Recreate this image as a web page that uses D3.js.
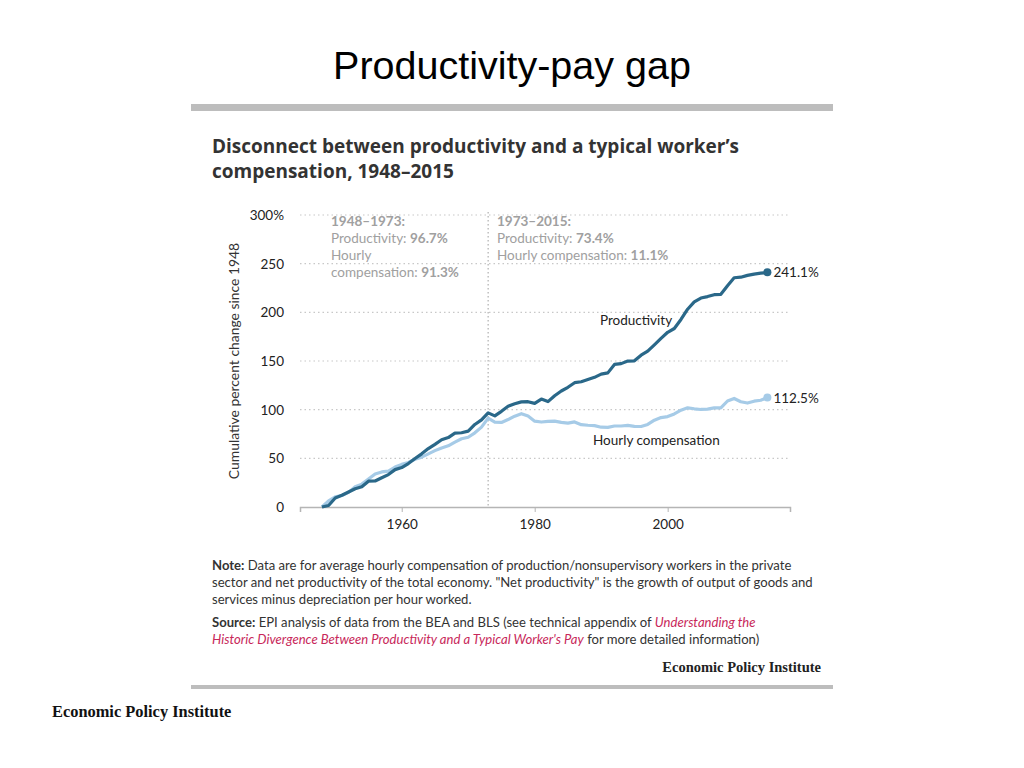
<!DOCTYPE html>
<html><head><meta charset="utf-8">
<script src="https://cdn.jsdelivr.net/npm/d3@7"></script>
<style>body{margin:0;background:#fff}svg{display:block}</style>
</head><body>
<script>
const years = d3.range(1948, 2016);
const productivity = [0,1.5,9.3,12.1,15.4,18.8,20.8,26.5,26.7,30.1,33.3,38.4,40.5,44.6,49.8,54.6,60.0,64.4,69.1,71.3,75.9,76.3,77.9,84.8,89.5,96.7,93.6,98.3,103.6,106.1,108.0,108.2,106.5,110.9,108.3,114.3,119.2,123.0,127.7,128.7,131.0,133.2,136.5,137.8,146.5,147.3,149.9,150.2,156.0,160.2,166.6,173.2,179.5,183.4,192.7,203.2,210.7,214.7,216.2,218.1,218.5,227.3,235.5,236.1,238.0,239.3,240.2,241.1];
const compensation = [0,6.3,10.5,11.8,15.0,20.8,23.5,28.7,33.9,36.0,36.9,41.0,43.8,45.8,49.0,51.2,54.6,57.9,60.7,62.9,66.7,70.1,71.7,76.2,82.1,91.3,87.3,86.9,89.8,93.3,95.9,93.4,88.2,87.3,87.9,88.3,87.0,86.2,87.4,84.6,84.0,83.6,82.0,81.8,83.2,83.2,83.8,82.8,82.7,84.8,89.2,91.9,92.9,95.6,99.5,101.9,100.9,100.2,100.6,101.8,101.8,108.9,111.5,108.1,106.8,108.7,109.7,112.5];
const yTicks = [0,50,100,150,200,250,300];
const xTicks = [1960,1980,2000];
const periods = [
  {x:1948, head:"1948–1973:", lines:[["Productivity: ","96.7%"],["Hourly",""],["compensation: ","91.3%"]]},
  {x:1973, head:"1973–2015:", lines:[["Productivity: ","73.4%"],["Hourly compensation: ","11.1%"]]}
];
const darkC = "#2a6889", lightC = "#a6cbe7";
const F = "Lato, 'Open Sans', sans-serif";

const svg = d3.select("body").append("svg").attr("width",1024).attr("height",768);

svg.append("text").attr("x",512).attr("y",79).attr("text-anchor","middle")
  .attr("font-family","'Liberation Sans', Arial, sans-serif").attr("font-size",39.5).attr("fill","#000")
  .text("Productivity-pay gap");

svg.append("rect").attr("x",191).attr("y",104).attr("width",642).attr("height",7).attr("fill","#bdbdbd");
svg.append("rect").attr("x",191).attr("y",685).attr("width",642).attr("height",4).attr("fill","#bdbdbd");

const t = svg.append("text").attr("font-family","'Open Sans', Lato, sans-serif").attr("font-weight","bold").attr("font-size",19).attr("fill","#333");
t.append("tspan").attr("x",212).attr("y",153).text("Disconnect between productivity and a typical worker’s");
t.append("tspan").attr("x",212).attr("y",178).text("compensation, 1948–2015");

const x = d3.scaleLinear().domain([1944.7, 2018.4]).range([300, 790]);
const y = d3.scaleLinear().domain([0, 300]).range([507, 215]);

// grid
svg.append("g").selectAll("line").data(yTicks.filter(d=>d>0)).join("line")
  .attr("x1",300).attr("x2",788).attr("y1",d=>y(d)).attr("y2",d=>y(d))
  .attr("stroke","#c8c8c8").attr("stroke-width",1.2).attr("stroke-dasharray","1.5,3");

svg.append("g").selectAll("text").data(yTicks).join("text")
  .attr("x",284).attr("y",d=>y(d)+5).attr("text-anchor","end")
  .attr("font-family",F).attr("font-size",13.5).attr("fill","#222")
  .text(d=>d===300?"300%":d);

svg.append("text").attr("transform","translate(239,361) rotate(-90)").attr("text-anchor","middle")
  .attr("font-family",F).attr("font-size",13.9).attr("fill","#333")
  .text("Cumulative percent change since 1948");

// x axis
const xa = svg.append("g").attr("transform","translate(0,507)")
  .call(d3.axisBottom(x).tickValues(xTicks).tickSize(5).tickFormat(d3.format("d")));
xa.select(".domain").attr("stroke","#b5b5b5").attr("stroke-width",1.5);
xa.selectAll(".tick line").attr("stroke","#b5b5b5");
xa.selectAll(".tick text").attr("font-family",F).attr("font-size",13.5).attr("fill","#222").attr("dy","1em");

// 1973 divider
svg.append("line").attr("x1",x(1973)).attr("x2",x(1973)).attr("y1",212).attr("y2",506)
  .attr("stroke","#b5b5b5").attr("stroke-width",1.3).attr("stroke-dasharray","1.5,2.5");

// period annotations
periods.forEach((p,i)=>{
  const px = i===0 ? 331 : 497;
  svg.append("text").attr("x",px).attr("y",226).attr("font-family",F).attr("font-size",13.5)
    .attr("font-weight","bold").attr("fill","#a0a0a0").text(p.head);
  p.lines.forEach((l,j)=>{
    const tt = svg.append("text").attr("x",px).attr("y",243+j*17).attr("font-family",F).attr("font-size",13.5).attr("fill","#a0a0a0");
    tt.append("tspan").text(l[0]);
    if(l[1]) tt.append("tspan").attr("font-weight","bold").text(l[1]);
  });
});

const line = d3.line().x((d,i)=>x(years[i])).y(d=>y(d)).curve(d3.curveLinear);
svg.append("path").datum(compensation).attr("d",line).attr("fill","none").attr("stroke",lightC)
  .attr("stroke-width",3.2).attr("stroke-linejoin","round");
svg.append("path").datum(productivity).attr("d",line).attr("fill","none").attr("stroke",darkC)
  .attr("stroke-width",3.2).attr("stroke-linejoin","round");

const last = years.length-1;
svg.append("circle").attr("cx",x(years[last])).attr("cy",y(productivity[last])).attr("r",4).attr("fill",darkC);
svg.append("circle").attr("cx",x(years[last])).attr("cy",y(compensation[last])).attr("r",4).attr("fill",lightC);
svg.append("text").attr("x",x(years[last])+6).attr("y",y(productivity[last])+5).attr("font-family",F).attr("font-size",13.5).attr("fill","#222").text(productivity[last]+"%");
svg.append("text").attr("x",x(years[last])+6).attr("y",y(compensation[last])+5).attr("font-family",F).attr("font-size",13.5).attr("fill","#222").text(compensation[last]+"%");

svg.append("text").attr("x",600).attr("y",325).attr("font-family",F).attr("font-size",13.5).attr("fill","#222").text("Productivity");
svg.append("text").attr("x",593).attr("y",445).attr("font-family",F).attr("font-size",13.5).attr("fill","#222").text("Hourly compensation");

// notes
const nF = 13.1;
function noteLine(yy, parts){
  const tt = svg.append("text").attr("x",212).attr("y",yy).attr("font-family",F).attr("font-size",nF).attr("fill","#333");
  parts.forEach(p=>{
    const s = tt.append("tspan").text(p.t);
    if(p.b) s.attr("font-weight","bold");
    if(p.i) s.attr("font-style","italic").attr("fill","#c8285a");
  });
}
noteLine(570,[{t:"Note:",b:1},{t:" Data are for average hourly compensation of production/nonsupervisory workers in the private"}]);
noteLine(587,[{t:"sector and net productivity of the total economy. \"Net productivity\" is the growth of output of goods and"}]);
noteLine(604,[{t:"services minus depreciation per hour worked."}]);
noteLine(627,[{t:"Source:",b:1},{t:" EPI analysis of data from the BEA and BLS (see technical appendix of "},{t:"Understanding the",i:1}]);
noteLine(644,[{t:"Historic Divergence Between Productivity and a Typical Worker's Pay",i:1},{t:" for more detailed information)"}]);

svg.append("text").attr("x",821).attr("y",672).attr("text-anchor","end")
  .attr("font-family","'Liberation Serif', 'DejaVu Serif', serif").attr("font-weight","bold").attr("font-size",14.5).attr("fill","#222")
  .text("Economic Policy Institute");
svg.append("text").attr("x",52).attr("y",717)
  .attr("font-family","'Liberation Serif', 'DejaVu Serif', serif").attr("font-weight","bold").attr("font-size",16.4).attr("fill","#111")
  .text("Economic Policy Institute");
</script>
</body></html>
